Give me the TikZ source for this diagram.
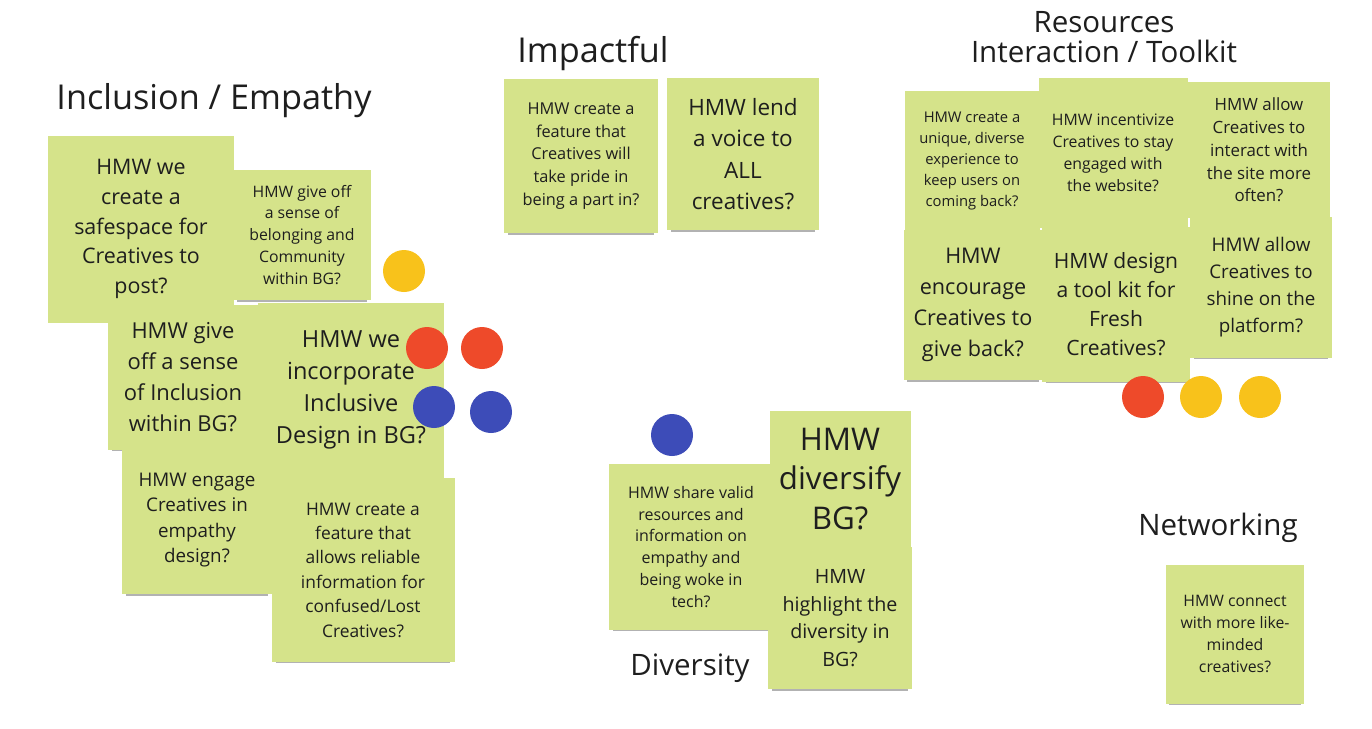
\documentclass[tikz,border=0pt]{standalone}
\usepackage{fontspec}
\setmainfont{Open Sans}
\usepackage{xcolor}
\usetikzlibrary{shadows}

\definecolor{notegreen}{HTML}{D5E38A}
\definecolor{dotyellow}{HTML}{F8C21B}
\definecolor{dotred}{HTML}{EE4A2A}
\definecolor{dotblue}{HTML}{3D4CB8}
\definecolor{inkdark}{HTML}{1E1E1E}

\begin{document}
\begin{tikzpicture}[
            % one unit = one pixel of the board
            x=0.02cm, y=-0.02cm,
            % sticky notes, dots and headings
            note/.style 2 args={rectangle, fill=notegreen, minimum width=#1*0.02cm, minimum height=#2*0.02cm, inner sep=0pt, align=center, text=inkdark,
                drop shadow={shadow xshift=0pt, shadow yshift=-3.2pt, shadow scale=0.95, opacity=0.3, fill=black}},
            dot/.style={circle, minimum size=0.84cm, inner sep=0pt},
            heading/.style={font=\fontsize{16.8pt}{17.5pt}\selectfont, text=inkdark, align=center, inner sep=0pt},
            bigheading/.style={heading, font=\fontsize{19.5pt}{20pt}\selectfont}
            ]

            \useasboundingbox[fill=white] (0,0) rectangle (1372,728);

            % Inclusion / Empathy
            \node (titincl) [bigheading] at (214,101) {Inclusion / Empathy};
            \node (safe) [note={186}{187}, font=\fontsize{12.2pt}{17pt}\selectfont] at (141,229) {HMW we\\create a\\safespace for\\Creatives to\\post?};
            \node (belong) [note={137}{130}, font=\fontsize{9pt}{12.5pt}\selectfont] at (302,235) {HMW give off\\a sense of\\belonging and\\Community\\within BG?};
            \node (inclu) [note={150}{145}, font=\fontsize{12.5pt}{17.6pt}\selectfont] at (183,377) {HMW give\\off a sense\\of Inclusion\\within BG?};
            \node (engage) [note={150}{148}, font=\fontsize{10.7pt}{14.5pt}\selectfont] at (197,520) {HMW engage\\Creatives in\\empathy\\design?};
            \node (incorp) [note={186}{175}, font=\fontsize{13.4pt}{18.1pt}\selectfont] at (351,390) {HMW we\\incorporate\\Inclusive\\Design in BG?};
            \node (reliable) [note={183}{184}, font=\fontsize{9.9pt}{13.9pt}\selectfont] at (363,570) {HMW create a\\feature that\\allows reliable\\information for\\confused/Lost\\Creatives?};

            \node (yel1) [dot, fill=dotyellow] at (404,271) {};
            \node (red1) [dot, fill=dotred] at (427,348) {};
            \node (red2) [dot, fill=dotred] at (482,348) {};
            \node (blu1) [dot, fill=dotblue] at (434,407) {};
            \node (blu2) [dot, fill=dotblue] at (491,412) {};

            % Impactful
            \node (titimp) [bigheading] at (593,54) {Impactful};
            \node (pride) [note={154}{154}, font=\fontsize{9.3pt}{13pt}\selectfont] at (581,156) {HMW create a\\feature that\\Creatives will\\take pride in\\being a part in?};
            \node (voice) [note={152}{152}, font=\fontsize{12.8pt}{17.9pt}\selectfont] at (743,154) {HMW lend\\a voice to\\ALL\\creatives?};

            % Diversity
            \node (blu3) [dot, fill=dotblue] at (672,435) {};
            \node (share) [note={164}{166}, font=\fontsize{9.1pt}{12.5pt}\selectfont] at (691,547) {HMW share valid\\resources and\\information on\\empathy and\\being woke in\\tech?};
            \node (divers) [note={141}{137}, font=\fontsize{17.8pt}{22.7pt}\selectfont] at (840,479) {HMW\\diversify\\BG?};
            \node (highl) [note={144}{142}, font=\fontsize{11.2pt}{15.6pt}\selectfont] at (840,618) {HMW\\highlight the\\diversity in\\BG?};
            \node (titdiv) [heading] at (690,668) {Diversity};

            % Resources / Interaction / Toolkit
            \node (titres) [heading] at (1104,37) {Resources\\Interaction / Toolkit};
            \node (unique) [note={135}{141}, font=\fontsize{8.4pt}{11.9pt}\selectfont] at (972,161) {HMW create a\\unique, diverse\\experience to\\keep users on\\coming back?};
            \node (incent) [note={149}{150}, font=\fontsize{9pt}{12.5pt}\selectfont] at (1113,153) {HMW incentivize\\Creatives to stay\\engaged with\\the website?};
            \node (interact) [note={142}{136}, font=\fontsize{9.6pt}{13pt}\selectfont] at (1259,150) {HMW allow\\Creatives to\\interact with\\the site more\\often?};
            \node (encour) [note={138}{150}, font=\fontsize{12.3pt}{17.6pt}\selectfont] at (973,305) {HMW\\encourage\\Creatives to\\give back?};
            \node (toolkit) [note={148}{155}, font=\fontsize{12pt}{16.4pt}\selectfont] at (1116,304) {HMW design\\a tool kit for\\Fresh\\Creatives?};
            \node (shine) [note={142}{141}, font=\fontsize{10.7pt}{15.3pt}\selectfont] at (1261,287) {HMW allow\\Creatives to\\shine on the\\platform?};

            \node (red3) [dot, fill=dotred] at (1143,397) {};
            \node (yel2) [dot, fill=dotyellow] at (1201,397) {};
            \node (yel3) [dot, fill=dotyellow] at (1260,397) {};

            % Networking
            \node (titnet) [heading] at (1218,528) {Networking};
            \node (connect) [note={138}{139}, font=\fontsize{9pt}{12.5pt}\selectfont] at (1235,634) {HMW connect\\with more like-\\minded\\creatives?};

        \end{tikzpicture}
\end{document}
